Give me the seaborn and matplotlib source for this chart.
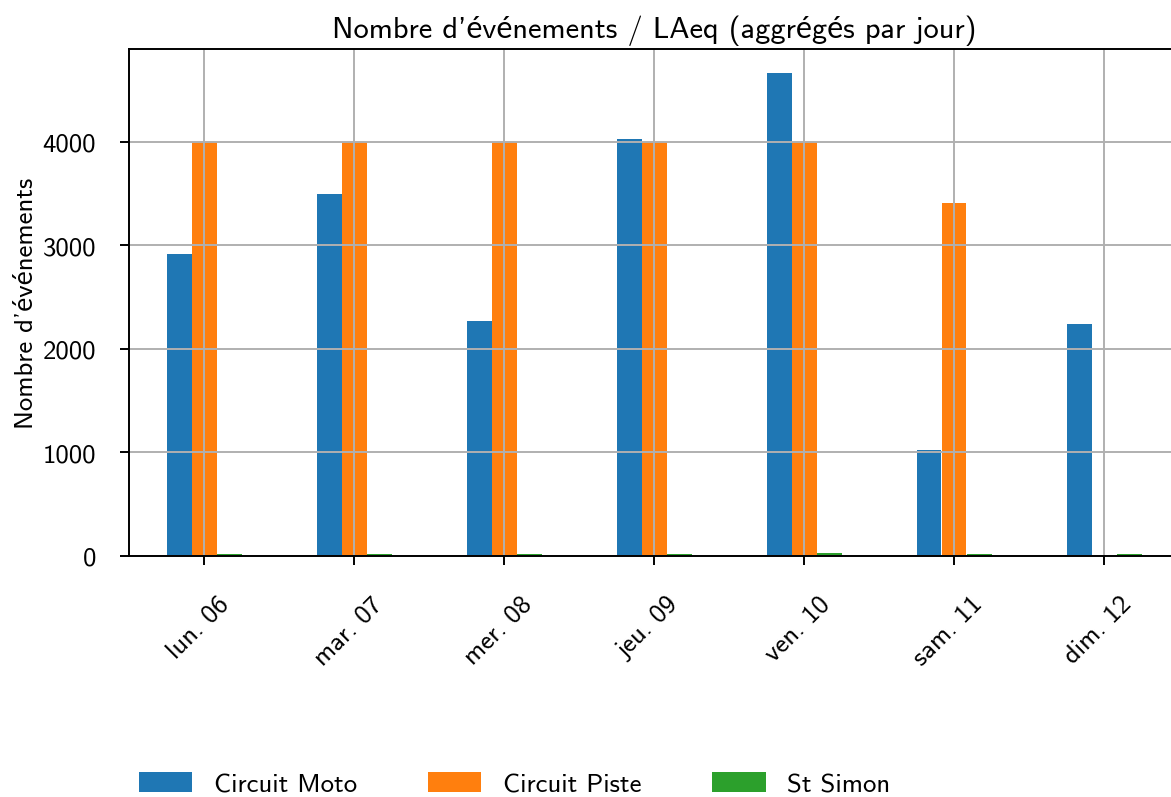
import pandas as pd
import matplotlib
matplotlib.use("Agg")
import matplotlib.pyplot as plt
import matplotlib.transforms as mtransforms
import seaborn as sns

days = ["lun. 06", "mar. 07", "mer. 08", "jeu. 09", "ven. 10", "sam. 11", "dim. 12"]
sites = ["Circuit Moto", "Circuit Piste", "St Simon"]
moto = [2915, 3495, 2270, 4025, 4665, 1025, 2240]
piste = [3995, 3995, 3995, 3995, 3995, 3410, 0]
st_simon = [18, 17, 16, 17, 32, 17, 18]
colors = ["#1f77b4", "#ff7f0e", "#2ca02c"]

plt.rcParams["font.family"] = ["cmss10", "Lato", "DejaVu Sans"]
plt.rcParams["font.size"] = 11
plt.rcParams["axes.unicode_minus"] = False

df = pd.DataFrame({"jour": days, sites[0]: moto, sites[1]: piste, sites[2]: st_simon})
long_df = df.melt(id_vars="jour", var_name="site", value_name="n")

fig = plt.figure(figsize=(1171 / 175, 798 / 175), dpi=175)
ax = fig.add_axes([129 / 1171, 1 - 557 / 798, 1050 / 1171, 507 / 798])

sns.barplot(data=long_df, x="jour", y="n", hue="site", order=days, hue_order=sites,
            palette=colors, saturation=1, width=0.5, errorbar=None, ax=ax)

ax.grid(True, color="#b0b0b0", linewidth=0.8)
ax.set_xlim(-0.5, 6.5)
ax.set_yticks([0, 1000, 2000, 3000, 4000])
ax.tick_params(axis="x", rotation=45, pad=10)
ax.tick_params(axis="y", pad=10)
# nudge the rotated day labels a little, like the original
shift = mtransforms.ScaledTranslation(-6 / 175, -3 / 175, fig.dpi_scale_trans)
for lbl in ax.get_xticklabels():
    lbl.set_transform(lbl.get_transform() + shift)
ax.set_xlabel("")
ax.set_ylabel("Nombre d'événements", labelpad=2)
ax.set_title("Nombre d'événements / LAeq (aggrégés par jour)", fontsize=12.5, pad=5)

handles, labels = ax.get_legend_handles_labels()
ax.get_legend().remove()
fig.legend(handles, labels, loc="center left", bbox_to_anchor=(139 / 1171, 1 - 785 / 798),
           ncol=3, frameon=False, borderpad=0, borderaxespad=0,
           handlelength=2.0, handleheight=0.75, handletextpad=0.8, columnspacing=2.65)

fig.savefig("out.png", dpi=175)
